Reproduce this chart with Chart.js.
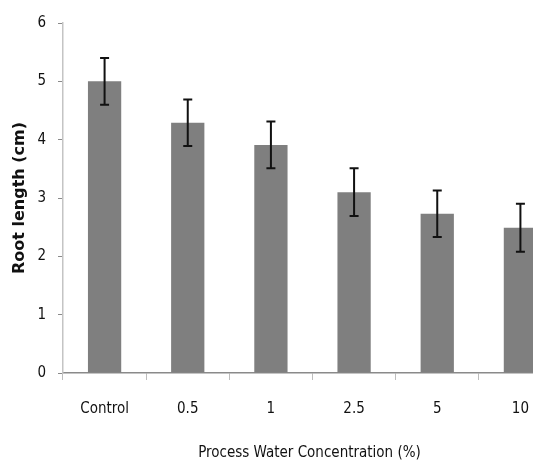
<!DOCTYPE html>
<html>
<head>
<meta charset="utf-8">
<script src="https://cdn.jsdelivr.net/npm/chart.js@4.4.0/dist/chart.umd.min.js"></script>
<style>
  html, body { margin: 0; padding: 0; background: #fff; overflow: hidden; }
  #wrap { width: 562px; height: 464px; }
</style>
</head>
<body>
<div id="wrap"><canvas id="rootChart" width="562" height="464"></canvas></div>
<script>
// datos
const categorias = ['Control', '0.5', '1', '2.5', '5', '10'];
const longitudRaiz = [5.0, 4.29, 3.91, 3.10, 2.73, 2.49];
const errores = [0.40, 0.40, 0.40, 0.41, 0.40, 0.41];
const ticksY = [0, 1, 2, 3, 4, 5, 6];

const fuenteTicks = "'Liberation Sans Narrow', 'DejaVu Sans Condensed', 'Liberation Sans', sans-serif";

// barras de error y titulos de ejes
const errorBarsPlugin = {
    id: 'errorBars',
    afterDatasetsDraw(chart) {
        const ctx = chart.ctx;
        const x = chart.scales.x;
        const y = chart.scales.y;
        ctx.save();
        ctx.strokeStyle = '#111';
        ctx.lineWidth = 2;
        longitudRaiz.forEach((v, i) => {
            const cx = x.getPixelForValue(i);
            const top = y.getPixelForValue(v + errores[i]);
            const bot = y.getPixelForValue(v - errores[i]);
            ctx.beginPath();
            ctx.moveTo(cx, top);
            ctx.lineTo(cx, bot);
            ctx.moveTo(cx - 4.5, top);
            ctx.lineTo(cx + 4.5, top);
            ctx.moveTo(cx - 4.5, bot);
            ctx.lineTo(cx + 4.5, bot);
            ctx.stroke();
        });
        ctx.restore();
    },
    afterDraw(chart) {
        const ctx = chart.ctx;
        const area = chart.chartArea;
        ctx.save();
        ctx.fillStyle = '#111';
        ctx.textAlign = 'center';
        ctx.textBaseline = 'middle';
        ctx.font = "15px " + fuenteTicks;
        ctx.fillText('Process Water Concentration (%)', (area.left + area.right) / 2 - 3, 453);
        ctx.translate(20, (area.top + area.bottom) / 2);
        ctx.rotate(-Math.PI / 2);
        ctx.font = "bold 16px 'DejaVu Sans', sans-serif";
        ctx.fillText('Root length (cm)', 0, 0);
        ctx.restore();
    }
};

const ctx = document.getElementById('rootChart').getContext('2d');
new Chart(ctx, {
    type: 'bar',
    data: {
        labels: categorias,
        datasets: [{
            data: longitudRaiz,
            backgroundColor: '#7f7f7f',
            borderWidth: 0,
            barPercentage: 0.4,
            categoryPercentage: 1.0
        }]
    },
    options: {
        responsive: false,
        animation: false,
        layout: { padding: { top: 23, right: 0, left: 0, bottom: 0 } },
        plugins: {
            legend: { display: false },
            tooltip: { enabled: false }
        },
        scales: {
            x: {
                afterFit: s => { s.height = 91; },
                border: { color: '#8a8a8a', width: 1.5 },
                grid: {
                    offset: true,
                    drawOnChartArea: false,
                    drawTicks: true,
                    tickLength: 7,
                    color: '#bdbdbd'
                },
                ticks: {
                    padding: 20,
                    color: '#111',
                    font: { family: fuenteTicks, size: 15 }
                }
            },
            y: {
                min: 0,
                max: 6,
                afterFit: s => { s.width = 63; },
                afterBuildTicks: s => { s.ticks = ticksY.map(v => ({ value: v })); },
                border: { color: '#c4c4c4', width: 1.5 },
                grid: {
                    drawOnChartArea: false,
                    drawTicks: true,
                    tickLength: 5,
                    color: '#8a8a8a'
                },
                ticks: {
                    padding: 12,
                    color: '#111',
                    font: { family: fuenteTicks, size: 15 }
                }
            }
        }
    },
    plugins: [errorBarsPlugin]
});
</script>
</body>
</html>
